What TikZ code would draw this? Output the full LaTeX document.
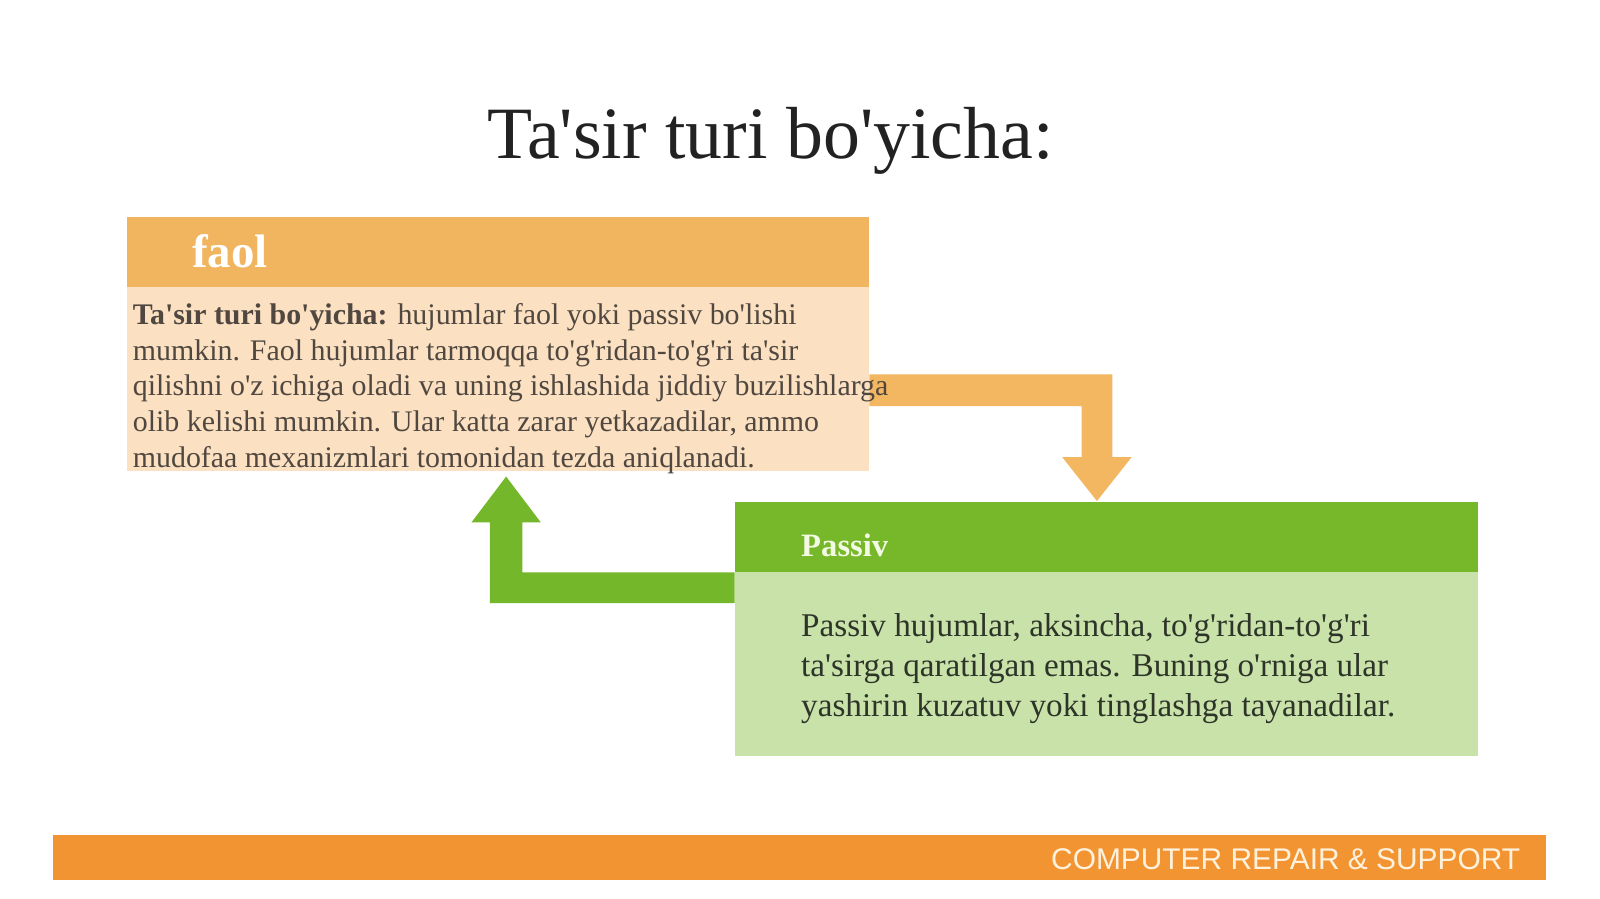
\documentclass[tikz,border=0pt]{standalone}
\usepackage{fontspec}
\setmainfont{Liberation Serif}[Ligatures=TeXOff]
\newfontfamily\arialf{Liberation Sans}
\usetikzlibrary{calc}
\definecolor{orhead}{RGB}{241,180,95}
\definecolor{orbody}{RGB}{251,224,193}
\definecolor{orarrow}{RGB}{243,183,98}
\definecolor{grhead}{RGB}{119,184,42}
\definecolor{grbody}{RGB}{201,226,169}
\definecolor{grarrow}{RGB}{117,183,42}
\definecolor{footc}{RGB}{243,148,51}
\definecolor{ftext}{RGB}{80,72,64}
\definecolor{gtext}{RGB}{45,52,40}
\definecolor{titc}{RGB}{34,34,34}
\tikzset{
  panel/.style={rectangle, anchor=north west, inner sep=0pt, outer sep=0pt, minimum width=728pt},
  otext/.style={anchor=base west, inner sep=0pt, text=ftext, font=\fontsize{29.3}{35}\selectfont},
  gtxt/.style={anchor=base west, inner sep=0pt, text=gtext, font=\fontsize{32.5}{39}\selectfont},
}
\begin{document}
\begin{tikzpicture}[x=1pt,y=-1pt]
\useasboundingbox[fill=white] (0,0) rectangle (1568,881);
% title
\node[anchor=base, inner sep=0pt, text=titc, font=\fontsize{72.3}{80}\selectfont] (title) at (755,155) {Ta'sir turi bo'yicha:};
% faol panel
\node[panel, fill=orhead, minimum height=68pt] (faolhead) at (124,213) {};
\node[panel, fill=orbody, minimum height=181pt] (faolbody) at (124,281) {};
\node[anchor=base west, inner sep=0pt, text=white, font=\fontsize{46}{50}\selectfont\bfseries] (faoltitle) at (188,262) {faol};
% passiv panel
\node[panel, fill=grhead, minimum height=69pt] (passhead) at (720,492) {};
\node[panel, fill=grbody, minimum height=180pt] (passbody) at (720,561) {};
\node[anchor=base west, inner sep=0pt, text={rgb,255:red,242;green,250;blue,228}, font=\fontsize{32}{36}\selectfont\bfseries] (passtitle) at (785,545) {Passiv};
% orange arrow faol -> passiv
\fill[orarrow] (faolbody.east |- 0,367) -- (1090,367) -- (1090,448) -- (1109,448) -- (1075,491) -- (1041,448) -- (1060,448) -- (1060,398) -- (faolbody.east |- 0,398) -- cycle;
% green arrow passiv -> faol
\fill[grarrow] (passhead.south west) -- (512,561) -- (512,512) -- (530,512) -- (496,467) -- (462,512) -- (480,512) -- (480,591) -- (passbody.west |- 0,591) -- cycle;
% faol text
\node[otext] (f1) at (130,318) {\textbf{Ta'sir turi bo'yicha:} hujumlar faol yoki passiv bo'lishi};
\node[otext] (f2) at (130,353) {mumkin. Faol hujumlar tarmoqqa to'g'ridan-to'g'ri ta'sir};
\node[otext] (f3) at (130,388) {qilishni o'z ichiga oladi va uning ishlashida jiddiy buzilishlarga};
\node[otext] (f4) at (130,423) {olib kelishi mumkin. Ular katta zarar yetkazadilar, ammo};
\node[otext] (f5) at (130,458) {mudofaa mexanizmlari tomonidan tezda aniqlanadi.};
% passiv text
\node[gtxt] (p1) at (785,624) {Passiv hujumlar, aksincha, to'g'ridan-to'g'ri};
\node[gtxt] (p2) at (785,663) {ta'sirga qaratilgan emas. Buning o'rniga ular};
\node[gtxt] (p3) at (785,702) {yashirin kuzatuv yoki tinglashga tayanadilar.};
% footer
\node[rectangle, anchor=north west, inner sep=0pt, fill=footc, minimum width=1463pt, minimum height=44pt] (footer) at (52,818) {};
\node[anchor=base east, inner sep=0pt, text={rgb,255:red,255;green,242;blue,220}, font=\arialf\fontsize{29.3}{32}\selectfont] (foottext) at (1490,852) {COMPUTER REPAIR \& SUPPORT};
\end{tikzpicture}
\end{document}
